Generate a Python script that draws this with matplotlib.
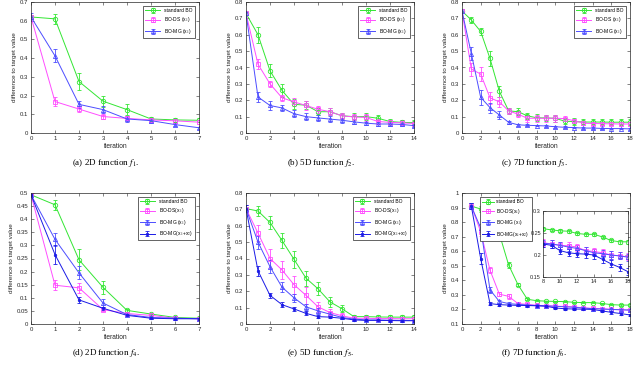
import numpy as np
from matplotlib import pyplot as plt
from matplotlib.ticker import FormatStrFormatter, MultipleLocator

plt.rcParams['font.family'] = ['Liberation Sans', 'DejaVu Sans']
plt.rcParams['mathtext.fontset'] = 'stix'

# colores y estilos (tipo MATLAB)
verde = '#33e633'
magenta = '#ff4dff'
azul = '#4d4dff'
azulOsc = '#1a1ae6'

etiquetas3 = ['standard BO', 'BO-DS (x$_1$)', 'BO-MG (x$_1$)']
etiquetas4 = ['standard BO', 'BO-DS(x$_1$)', 'BO-MG (x$_1$)', 'BO-MG(x$_1$+x$_2$)']

# (a) funcion f1
it_a = list(range(8))
std_a = [0.62, 0.61, 0.275, 0.17, 0.125, 0.075, 0.07, 0.068]
std_a_err = [0.01, 0.025, 0.045, 0.03, 0.03, 0.01, 0.01, 0.01]
ds_a = [0.62, 0.168, 0.128, 0.088, 0.078, 0.07, 0.065, 0.058]
ds_a_err = [0.01, 0.025, 0.015, 0.015, 0.01, 0.01, 0.01, 0.01]
mg_a = [0.62, 0.412, 0.153, 0.125, 0.075, 0.066, 0.045, 0.028]
mg_a_err = [0.02, 0.035, 0.02, 0.02, 0.015, 0.01, 0.01, 0.005]

# (b) funcion f2
it_b = list(range(15))
std_b = [0.73, 0.60, 0.38, 0.26, 0.175, 0.17, 0.13, 0.13, 0.105, 0.10, 0.10, 0.09, 0.07, 0.065, 0.063]
std_b_err = [0.01, 0.05, 0.04, 0.04, 0.03, 0.025, 0.02, 0.02, 0.02, 0.02, 0.02, 0.02, 0.015, 0.015, 0.015]
ds_b = [0.73, 0.42, 0.30, 0.215, 0.19, 0.168, 0.145, 0.13, 0.105, 0.098, 0.095, 0.07, 0.065, 0.062, 0.058]
ds_b_err = [0.01, 0.03, 0.02, 0.02, 0.025, 0.025, 0.02, 0.02, 0.02, 0.02, 0.02, 0.015, 0.015, 0.015, 0.015]
mg_b = [0.73, 0.22, 0.168, 0.153, 0.118, 0.10, 0.092, 0.085, 0.078, 0.068, 0.06, 0.055, 0.055, 0.052, 0.045]
mg_b_err = [0.01, 0.03, 0.025, 0.02, 0.02, 0.02, 0.02, 0.02, 0.015, 0.015, 0.01, 0.01, 0.01, 0.01, 0.01]

# (c) funcion f3
it_c = list(range(19))
std_c = [0.745, 0.69, 0.62, 0.455, 0.255, 0.135, 0.13, 0.105, 0.093, 0.092, 0.09, 0.072, 0.07,
         0.067, 0.067, 0.067, 0.066, 0.066, 0.066]
std_c_err = [0.01, 0.02, 0.02, 0.045, 0.035, 0.02, 0.02, 0.02, 0.02, 0.02, 0.02, 0.02, 0.02,
             0.02, 0.02, 0.02, 0.02, 0.02, 0.02]
ds_c = [0.745, 0.39, 0.36, 0.215, 0.19, 0.135, 0.115, 0.09, 0.09, 0.09, 0.09, 0.088, 0.075,
        0.06, 0.058, 0.057, 0.056, 0.055, 0.055]
ds_c_err = [0.01, 0.04, 0.04, 0.035, 0.03, 0.02, 0.02, 0.02, 0.02, 0.02, 0.02, 0.015, 0.01,
            0.01, 0.01, 0.01, 0.01, 0.01, 0.01]
mg_c = [0.745, 0.485, 0.218, 0.155, 0.11, 0.065, 0.05, 0.047, 0.045, 0.043, 0.038, 0.035, 0.033,
        0.03, 0.03, 0.028, 0.027, 0.027, 0.025]
mg_c_err = [0.015, 0.04, 0.045, 0.03, 0.025, 0.01, 0.005, 0.005, 0.005, 0.005, 0.005, 0.005, 0.005,
            0.005, 0.005, 0.005, 0.005, 0.005, 0.005]

# (d) funcion f4
it_d = list(range(8))
std_d = [0.493, 0.455, 0.245, 0.14, 0.052, 0.038, 0.025, 0.022]
std_d_err = [0.005, 0.02, 0.04, 0.025, 0.005, 0.005, 0.004, 0.004]
ds_d = [0.493, 0.148, 0.138, 0.055, 0.04, 0.033, 0.022, 0.02]
ds_d_err = [0.005, 0.02, 0.02, 0.005, 0.004, 0.004, 0.003, 0.003]
mg_d = [0.493, 0.323, 0.195, 0.08, 0.036, 0.025, 0.022, 0.02]
mg_d_err = [0.005, 0.025, 0.025, 0.015, 0.005, 0.004, 0.003, 0.003]
mg2_d = [0.493, 0.265, 0.092, 0.06, 0.033, 0.022, 0.02, 0.02]
mg2_d_err = [0.005, 0.035, 0.01, 0.005, 0.004, 0.003, 0.003, 0.003]

# (e) funcion f5
it_e = list(range(15))
std_e = [0.705, 0.69, 0.62, 0.51, 0.395, 0.28, 0.215, 0.135, 0.093, 0.045, 0.045, 0.043, 0.042, 0.042, 0.042]
std_e_err = [0.01, 0.03, 0.04, 0.045, 0.05, 0.045, 0.04, 0.03, 0.02, 0.01, 0.01, 0.01, 0.01, 0.01, 0.01]
ds_e = [0.705, 0.555, 0.40, 0.33, 0.24, 0.175, 0.105, 0.07, 0.05, 0.035, 0.035, 0.033, 0.033, 0.032, 0.032]
ds_e_err = [0.02, 0.05, 0.055, 0.055, 0.055, 0.05, 0.03, 0.02, 0.015, 0.01, 0.01, 0.01, 0.01, 0.01, 0.01]
mg_e = [0.705, 0.50, 0.35, 0.225, 0.16, 0.105, 0.08, 0.06, 0.04, 0.03, 0.025, 0.025, 0.023, 0.022, 0.021]
mg_e_err = [0.02, 0.04, 0.04, 0.03, 0.025, 0.02, 0.02, 0.015, 0.01, 0.008, 0.006, 0.006, 0.005, 0.005, 0.005]
mg2_e = [0.705, 0.325, 0.175, 0.118, 0.092, 0.065, 0.045, 0.042, 0.035, 0.025, 0.022, 0.022, 0.021, 0.02, 0.02]
mg2_e_err = [0.02, 0.03, 0.015, 0.015, 0.012, 0.012, 0.01, 0.008, 0.006, 0.005, 0.005, 0.005, 0.005, 0.005, 0.005]

# (f) funcion f6
it_f = list(range(1, 19))
std_f = [0.91, 0.89, 0.84, 0.72, 0.505, 0.37, 0.27, 0.26, 0.257, 0.255, 0.254, 0.249, 0.247,
         0.247, 0.241, 0.233, 0.23, 0.23]
std_f_err = [0.02, 0.02, 0.02, 0.02, 0.02, 0.012, 0.006, 0.004, 0.003, 0.003, 0.003, 0.003, 0.003,
             0.003, 0.003, 0.004, 0.004, 0.004]
ds_f = [0.91, 0.735, 0.47, 0.305, 0.29, 0.24, 0.235, 0.228, 0.225, 0.222, 0.221, 0.218, 0.21,
        0.208, 0.205, 0.2, 0.198, 0.196]
ds_f_err = [0.02, 0.03, 0.02, 0.015, 0.015, 0.01, 0.01, 0.008, 0.008, 0.008, 0.008, 0.008, 0.008,
            0.008, 0.008, 0.008, 0.008, 0.008]
mg_f = [0.91, 0.76, 0.335, 0.255, 0.24, 0.235, 0.23, 0.227, 0.225, 0.222, 0.218, 0.215, 0.21,
        0.205, 0.203, 0.2, 0.198, 0.195]
mg_f_err = [0.02, 0.03, 0.02, 0.01, 0.008, 0.008, 0.008, 0.008, 0.008, 0.008, 0.008, 0.008, 0.008,
            0.008, 0.008, 0.008, 0.008, 0.008]
mg2_f = [0.91, 0.55, 0.24, 0.233, 0.23, 0.228, 0.227, 0.225, 0.222, 0.21, 0.205, 0.203, 0.202,
         0.2, 0.19, 0.18, 0.172, 0.162]
mg2_f_err = [0.02, 0.04, 0.01, 0.006, 0.006, 0.006, 0.006, 0.006, 0.006, 0.008, 0.008, 0.008, 0.008,
             0.008, 0.008, 0.008, 0.008, 0.008]

estilos = [
    dict(color=verde, marker='o', mfc='none', ms=3.2),
    dict(color=magenta, marker='s', mfc='none', ms=2.8),
    dict(color=azul, marker='^', mfc='none', ms=3.0),
    dict(color=azulOsc, marker='.', ms=3.5),
]


def dibujar(ax, x, series, errores, etiquetas):
    for i in range(len(series)):
        ax.errorbar(x, series[i], yerr=errores[i], lw=0.7, elinewidth=0.6, capsize=1.3,
                    capthick=0.6, mew=0.6, label=etiquetas[i], **estilos[i])


def ejes(ax, xmax, ylim, paso_x, paso_y):
    ax.set_xlim(0, xmax)
    ax.set_ylim(*ylim)
    ax.xaxis.set_major_locator(MultipleLocator(paso_x))
    ax.yaxis.set_major_locator(MultipleLocator(paso_y))
    ax.yaxis.set_major_formatter(FormatStrFormatter('%g'))
    ax.tick_params(direction='in', top=True, right=True, labelsize=4.3, length=2,
                   width=0.4, pad=2, colors='#262626')
    for s in ax.spines.values():
        s.set_linewidth(0.5)
        s.set_color('#262626')


fig = plt.figure(figsize=(6.4, 3.68), dpi=100)

izq = [31 / 640, 246 / 640, 462 / 640]
ancho = 168 / 640
alto = 131 / 368
abajo = [1 - 133 / 368, 1 - 324 / 368]

paneles = [
    (it_a, [std_a, ds_a, mg_a], [std_a_err, ds_a_err, mg_a_err], etiquetas3, 7, (0, 0.7), 1, 0.1,
     '(a) 2D function $f_1$.'),
    (it_b, [std_b, ds_b, mg_b], [std_b_err, ds_b_err, mg_b_err], etiquetas3, 14, (0, 0.8), 2, 0.1,
     '(b) 5D function $f_2$.'),
    (it_c, [std_c, ds_c, mg_c], [std_c_err, ds_c_err, mg_c_err], etiquetas3, 18, (0, 0.8), 2, 0.1,
     '(c) 7D function $f_3$.'),
    (it_d, [std_d, ds_d, mg_d, mg2_d], [std_d_err, ds_d_err, mg_d_err, mg2_d_err], etiquetas4, 7,
     (0, 0.5), 1, 0.05, '(d) 2D function $f_4$.'),
    (it_e, [std_e, ds_e, mg_e, mg2_e], [std_e_err, ds_e_err, mg_e_err, mg2_e_err], etiquetas4, 14,
     (0, 0.8), 2, 0.1, '(e) 5D function $f_5$.'),
    (it_f, [std_f, ds_f, mg_f, mg2_f], [std_f_err, ds_f_err, mg_f_err, mg2_f_err], etiquetas4, 18,
     (0.1, 1), 2, 0.1, '(f) 7D function $f_6$.'),
]

centros = [106 / 640, 321 / 640, 534 / 640]
y_titulo = [1 - 163 / 368, 1 - 353 / 368]

for k, (x, series, errores, etq, xmax, ylim, px, py, titulo) in enumerate(paneles):
    fila, col = divmod(k, 3)
    ax = fig.add_axes([izq[col], abajo[fila], ancho, alto])
    dibujar(ax, x, series, errores, etq)
    ejes(ax, xmax, ylim, px, py)
    ax.set_xlabel('iteration', fontsize=4.8, labelpad=1.5, color='#262626')
    ax.set_ylabel('difference to target value', fontsize=4.6, labelpad=2, color='#262626')
    if k == 5:
        leg = ax.legend(loc='upper left', bbox_to_anchor=(0.095, 0.985), fontsize=3.5,
                        handlelength=2.4, handletextpad=0.5, borderpad=0.4, labelspacing=0.5,
                        fancybox=False, framealpha=1, edgecolor='#262626')
    else:
        leg = ax.legend(loc='upper right', bbox_to_anchor=(0.99, 0.99), fontsize=3.6,
                        handlelength=3, borderpad=0.4, labelspacing=0.5, fancybox=False,
                        framealpha=1, edgecolor='#262626')
    leg.get_frame().set_linewidth(0.5)
    leg.set_zorder(10)
    fig.text(centros[col], y_titulo[fila], titulo, ha='center', va='center', fontsize=6.5,
             family='Liberation Serif')

# recuadro ampliado de f6
ins = fig.add_axes([543 / 640, 1 - 277 / 368, 85 / 640, 66 / 368])
sel = slice(7, None)
dibujar(ins, it_f[sel], [std_f[sel], ds_f[sel], mg_f[sel], mg2_f[sel]],
        [std_f_err[sel], ds_f_err[sel], mg_f_err[sel], mg2_f_err[sel]], etiquetas4)
ejes(ins, 18, (0.15, 0.3), 2, 0.05)
ins.set_xlim(8, 18)
ins.tick_params(labelsize=4, pad=1.5)
ins.set_zorder(5)

fig.savefig('out.png', dpi=100)
